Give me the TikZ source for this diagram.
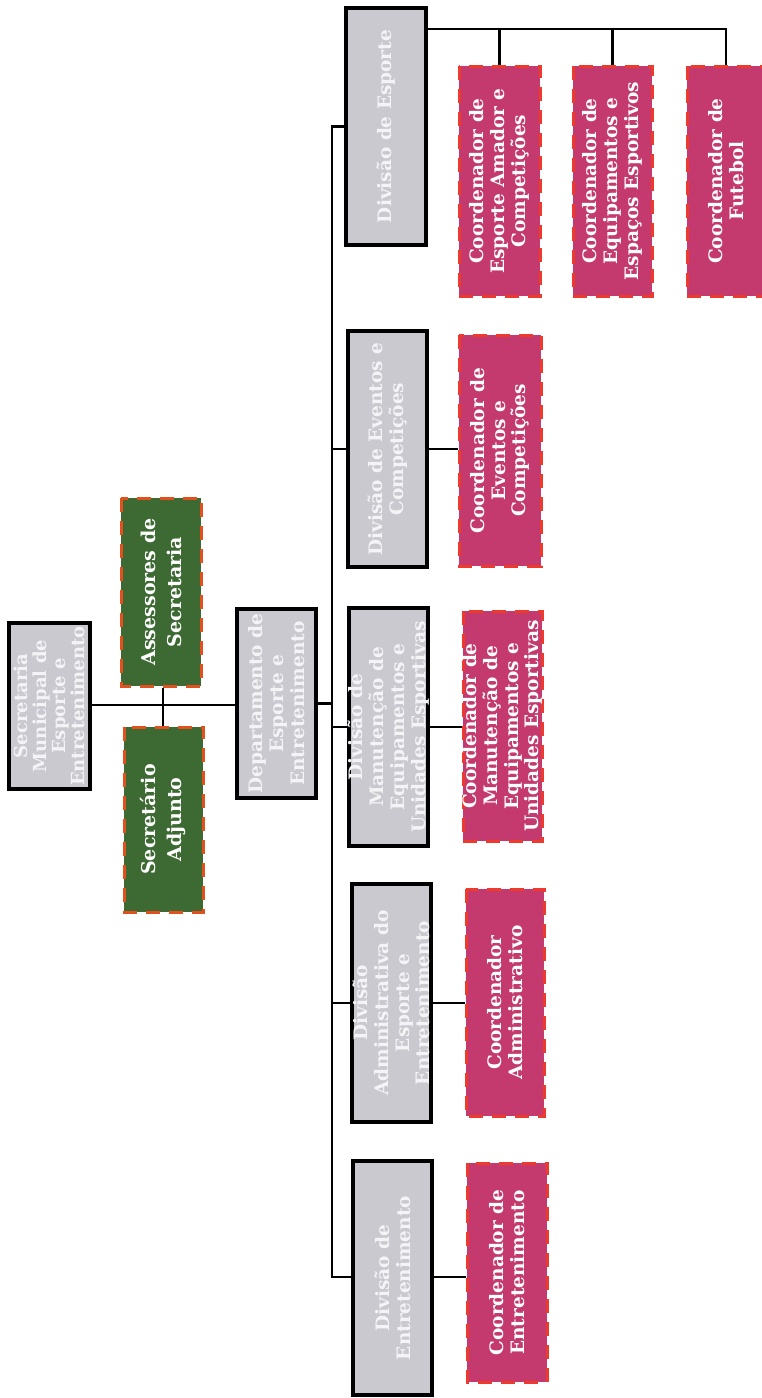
\documentclass[tikz,border=0pt]{standalone}
\usepackage{fontspec}
\setmainfont{DejaVu Serif}
\definecolor{boxgray}{HTML}{C9C9CF}
\definecolor{graytext}{HTML}{F4F4F7}
\definecolor{boxgreen}{HTML}{3D6A33}
\definecolor{boxpink}{HTML}{C53A6E}
\definecolor{dashorange}{HTML}{E2501E}
\definecolor{dashred}{HTML}{EE3A2C}
\tikzset{
  boxbase/.style={rotate=90, inner sep=0pt},
  graybox/.style={boxbase, draw=black, line width=3.2pt, fill=boxgray},
  greenbox/.style={boxbase, draw=dashorange, line width=3pt, dash pattern=on 14pt off 9pt, fill=boxgreen},
  pinkbox/.style={boxbase, draw=dashred, line width=3pt, dash pattern=on 14pt off 9pt, fill=boxpink},
  txt/.style={rotate=90, align=center, inner sep=0pt, font=\bfseries\fontsize{18.5}{20.8}\selectfont, text=white},
  greentxt/.style={txt, font=\bfseries\fontsize{19}{26}\selectfont},
  gtxt/.style={txt, text=graytext},
  conn/.style={draw=black, line width=2.7pt},
}
\begin{document}
\begin{tikzpicture}[x=1pt,y=-1pt]
\useasboundingbox (0,0) rectangle (761,1398);
% top level
\node[graybox, minimum width=166pt, minimum height=81pt] (sec) at (49.5,706) {};
\node[gtxt, font=\bfseries\fontsize{18}{19}\selectfont] (sec-t) at (sec) {Secretaria\\Municipal de\\Esporte e\\Entretenimento};
\node[greenbox, minimum width=188pt, minimum height=80pt] (ass) at (161,592) {};
\node[greentxt] (ass-t) at (ass) {Assessores de\\Secretaria};
\node[greenbox, minimum width=185pt, minimum height=79pt] (adj) at (163.5,819.5) {};
\node[greentxt] (adj-t) at (adj) {Secretário\\Adjunto};
\node[graybox, minimum width=189pt, minimum height=79pt] (dep) at (276.5,703.5) {};
\node[gtxt] (dep-t) at (dep) {Departamento de\\Esporte e\\Entretenimento};
% divisions
\node[graybox, minimum width=237pt, minimum height=80pt] (dEsp) at (386,126.5) {};
\node[gtxt] (dEsp-t) at (dEsp) {Divisão de Esporte};
\node[graybox, minimum width=236pt, minimum height=79pt] (dEve) at (387.5,449) {};
\node[gtxt] (dEve-t) at (dEve) {Divisão de Eventos e\\Competições};
\node[graybox, minimum width=238pt, minimum height=79pt] (dMan) at (388.5,727) {};
\node[gtxt] (dMan-t) at (dMan) {Divisão de\\Manutenção de\\Equipamentos e\\Unidades Esportivas};
\node[graybox, minimum width=238pt, minimum height=79pt] (dAdm) at (391.5,1003) {};
\node[gtxt] (dAdm-t) at (dAdm) {Divisão\\Administrativa do\\Esporte e\\Entretenimento};
\node[graybox, minimum width=234pt, minimum height=79pt] (dEnt) at (392.5,1278) {};
\node[gtxt] (dEnt-t) at (dEnt) {Divisão de\\Entretenimento};
% coordinators
\node[pinkbox, minimum width=230pt, minimum height=81pt] (cAma) at (499.5,181) {};
\node[txt] (cAma-t) at (cAma) {Coordenador de\\Esporte Amador e\\Competições};
\node[pinkbox, minimum width=230pt, minimum height=79pt] (cEqu) at (612.5,181) {};
\node[txt] (cEqu-t) at (cEqu) {Coordenador de\\Equipamentos e\\Espaços Esportivos};
\node[pinkbox, minimum width=230pt, minimum height=78pt] (cFut) at (726,181) {};
\node[txt] (cFut-t) at (cFut) {Coordenador de\\Futebol};
\node[pinkbox, minimum width=231pt, minimum height=82pt] (cEve) at (500,450.5) {};
\node[txt] (cEve-t) at (cEve) {Coordenador de\\Eventos e\\Competições};
\node[pinkbox, minimum width=230pt, minimum height=79pt] (cMan) at (502.5,726) {};
\node[txt] (cMan-t) at (cMan) {Coordenador de\\Manutenção de\\Equipamentos e\\Unidades Esportivas};
\node[pinkbox, minimum width=227pt, minimum height=78pt] (cAdm) at (505,1002.5) {};
\node[txt] (cAdm-t) at (cAdm) {Coordenador\\Administrativo};
\node[pinkbox, minimum width=219pt, minimum height=80pt] (cEnt) at (507,1272.5) {};
\node[txt] (cEnt-t) at (cEnt) {Coordenador de\\Entretenimento};
% connectors
\coordinate (j) at (163,705);
\coordinate (bt) at (332,127);
\coordinate (bb) at (332,1277);
\coordinate (th) at (0,29);
\draw[conn] (sec.south |- j) -- (dep.north |- j);
\draw[conn] (j |- ass.west) -- (j |- adj.east);
\draw[conn] (dep.south) -- (dep.south -| bt);
\draw[conn] (dEsp.north) -| (bb) -- (bb -| dEnt.north);
\draw[conn] (dEve.north -| bt) -- (dEve.north);
\draw[conn] (dMan.north -| bt) -- (dMan.north);
\draw[conn] (dAdm.north -| bt) -- (dAdm.north);
\draw[conn] (dEve.south) -- (dEve.south -| cEve.north);
\draw[conn] (dMan.south) -- (dMan.south -| cMan.north);
\draw[conn] (dAdm.south) -- (dAdm.south -| cAdm.north);
\draw[conn] (bb -| dEnt.south) -- (bb -| cEnt.north);
\draw[conn] (dEsp.south |- th) -- (cFut.east |- th) -- (cFut.east);
\draw[conn] (cAma.east |- th) -- (cAma.east);
\draw[conn] (cEqu.east |- th) -- (cEqu.east);
\end{tikzpicture}
\end{document}
